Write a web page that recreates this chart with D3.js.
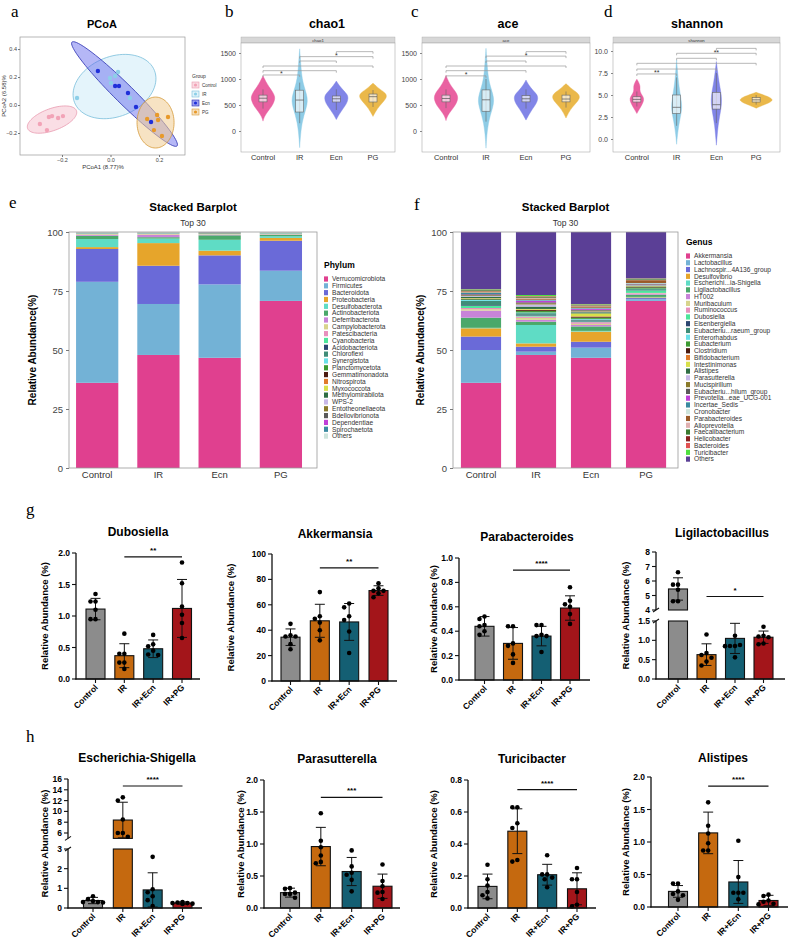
<!DOCTYPE html>
<html>
<head>
<meta charset="utf-8">
<script src="https://cdn.jsdelivr.net/npm/d3@7"></script>
<style>
  body { margin: 0; background: #fff; }
  svg text { font-family: "Liberation Sans", Arial, sans-serif; }
</style>
</head>
<body>
<svg id="fig" width="794" height="948"></svg>
<script>
let groups = ['Control', 'IR', 'Ecn', 'PG']
let barGroups = ['Control', 'IR', 'IR+Ecn', 'IR+PG']

// a: PCoA scores
let pcoaControl = [[-0.291, -0.136], [-0.262, -0.179], [-0.254, -0.086], [-0.241, -0.079], [-0.216, -0.093], [-0.196, -0.079]]
let pcoaIR = [[-0.138, 0.05], [0.031, 0.236], [-0.002, 0.193], [0.002, 0.157], [0.080, 0.05], [0.019, 0.207]]
let pcoaEcn = [[-0.052, 0.243], [0.019, 0.136], [0.035, 0.136], [0.072, 0.086], [0.105, -0.014], [0.167, -0.121]]
let pcoaPG = [[0.151, -0.1], [0.192, -0.071], [0.196, -0.107], [0.237, -0.086], [0.179, -0.179], [0.212, -0.221]]
// ellipse centre and semi-axis vectors, in PCoA units
let pcoaEllipses = [
  { group: 'Control', c: [-0.241, -0.104], a: [0.1006, 0.0636], b: [0.0155, -0.0739] },
  { group: 'IR', c: [0.0165, 0.132], a: [0.1645, 0.115], b: [0.046, -0.199] },
  { group: 'Ecn', c: [0.0577, 0.0786], a: [0.2165, -0.371], b: [0.0276, 0.048] },
  { group: 'PG', c: [0.1856, -0.125], a: [0.0763, 0], b: [0, 0.182] }
]

// b-d: alpha diversity (violin density profiles [value, density], boxes [lo, q1, med, q3, hi])
let chao1Density = {
  Control: [[190, 0], [280, 0.1], [380, 0.35], [480, 0.65], [580, 0.82], [660, 0.86], [750, 0.7], [850, 0.42], [950, 0.2], [1060, 0]],
  IR: [[-320, 0], [-150, 0.04], [0, 0.09], [150, 0.17], [300, 0.3], [450, 0.48], [580, 0.57], [700, 0.5], [850, 0.32], [1000, 0.18], [1200, 0.1], [1400, 0.05], [1580, 0]],
  Ecn: [[220, 0], [320, 0.2], [420, 0.45], [530, 0.75], [620, 0.85], [700, 0.8], [780, 0.5], [870, 0.22], [960, 0]],
  PG: [[280, 0], [380, 0.2], [480, 0.45], [580, 0.8], [660, 1.0], [730, 0.9], [800, 0.5], [870, 0.2], [920, 0]]
}
let chao1Box = { Control: [430, 560, 630, 690, 800], IR: [150, 365, 595, 785, 930], Ecn: [404, 558, 620, 673, 800], PG: [462, 558, 660, 711, 788] }
let chao1Brackets = [1077, 1160, 1250, 1346, 1430, 1526]
let chao1Stars = ['*', '', '', '', '*', '']

let aceDensity = {
  Control: [[200, 0], [290, 0.1], [390, 0.36], [490, 0.66], [590, 0.83], [670, 0.85], [760, 0.68], [850, 0.4], [950, 0.18], [1070, 0]],
  IR: [[-330, 0], [-150, 0.04], [0, 0.09], [150, 0.17], [300, 0.3], [450, 0.48], [580, 0.57], [700, 0.5], [850, 0.32], [1000, 0.18], [1200, 0.1], [1400, 0.05], [1590, 0]],
  Ecn: [[210, 0], [320, 0.22], [420, 0.45], [530, 0.75], [620, 0.86], [700, 0.8], [780, 0.5], [880, 0.2], [980, 0]],
  PG: [[250, 0], [360, 0.2], [460, 0.45], [560, 0.8], [640, 1.0], [720, 0.9], [790, 0.5], [860, 0.2], [910, 0]]
}
let aceBox = { Control: [440, 560, 625, 690, 800], IR: [180, 380, 600, 790, 1000], Ecn: [430, 560, 620, 680, 800], PG: [450, 560, 615, 690, 760] }
let aceBrackets = [1060, 1160, 1250, 1346, 1440, 1526]
let aceStars = ['*', '', '', '', '*', '']

let shannonDensity = {
  Control: [[2.9, 0], [3.4, 0.15], [3.9, 0.3], [4.4, 0.42], [4.8, 0.38], [5.2, 0.22], [5.6, 0.17], [6.0, 0.2], [6.4, 0.12], [6.8, 0]],
  IR: [[-0.6, 0], [0.5, 0.05], [1.5, 0.12], [2.5, 0.22], [3.3, 0.3], [4.0, 0.3], [5.0, 0.22], [6.0, 0.14], [7.0, 0.08], [8.0, 0.04], [9.0, 0]],
  Ecn: [[-0.7, 0], [0.5, 0.05], [1.5, 0.1], [2.5, 0.18], [3.5, 0.28], [4.5, 0.32], [5.5, 0.25], [6.5, 0.15], [7.5, 0.08], [8.8, 0]],
  PG: [[3.5, 0], [3.8, 0.35], [4.1, 0.75], [4.4, 1.0], [4.7, 0.85], [5.0, 0.45], [5.3, 0]]
}
let shannonBox = { Control: [3.7, 4.2, 4.5, 4.8, 5.4], IR: [1.5, 2.9, 3.6, 5.0, 7.0], Ecn: [1.8, 3.4, 3.9, 5.3, 7.5], PG: [3.9, 4.2, 4.45, 4.7, 5.0] }
let shannonBrackets = [7.39, 7.95, 8.6, 9.17, 9.74, 10.3]
let shannonStars = ['**', '', '', '', '**', '']

let pairs = [['Control', 'IR'], ['Control', 'Ecn'], ['Control', 'PG'], ['IR', 'Ecn'], ['IR', 'PG'], ['Ecn', 'PG']]

// e: phylum composition (%)
let phylumNames = ['Verrucomicrobiota', 'Firmicutes', 'Bacteroidota', 'Proteobacteria', 'Desulfobacterota', 'Actinobacteriota',
  'Deferribacterota', 'Campylobacterota', 'Patescibacteria', 'Cyanobacteria', 'Acidobacteriota', 'Chloroflexi', 'Synergistota',
  'Planctomycetota', 'Gemmatimonadota', 'Nitrospirota', 'Myxococcota', 'Methylomirabilota', 'WPS-2', 'Entotheonellaeota',
  'Bdellovibrionota', 'Dependentiae', 'Spirochaetota', 'Others']
let phylumColors = ['#e0408f', '#73b2d6', '#6a6ad8', '#e6a52b', '#5fdcc5', '#4aa86a', '#c883d8', '#d8d48c', '#e88fbd', '#4de69b',
  '#2c4670', '#3f8c78', '#6ae0e8', '#3c9a32', '#4a1a10', '#e07a2a', '#d8e04a', '#2f6e44', '#c8b8e8', '#8a7a2a',
  '#5a5a5a', '#c040d8', '#3a8aa0', '#cde4dc']
let phylumControl = [36.1, 42.8, 13.9, 0.8, 3.4, 1.4, 0.4, 0.3, 0.2, 0.1, 0.05, 0.05, 0.05, 0.05, 0.02, 0.02, 0.02, 0.02, 0.02, 0.02, 0.05, 0.02, 0.05, 0.16]
let phylumIR = [47.9, 21.6, 16.2, 9.6, 1.9, 0.6, 1.0, 0.3, 0.2, 0.1, 0.05, 0.05, 0.05, 0.05, 0.02, 0.02, 0.02, 0.02, 0.02, 0.02, 0.05, 0.02, 0.05, 0.16]
let phylumEcn = [46.7, 31.1, 12.3, 2.0, 4.6, 1.9, 0.2, 0.2, 0.1, 0.1, 0.05, 0.05, 0.05, 0.05, 0.02, 0.02, 0.02, 0.02, 0.02, 0.02, 0.3, 0.02, 0.05, 0.11]
let phylumPG = [70.8, 12.8, 12.7, 1.2, 0.7, 0.6, 0.2, 0.2, 0.1, 0.1, 0.05, 0.05, 0.05, 0.05, 0.02, 0.02, 0.02, 0.02, 0.02, 0.02, 0.05, 0.02, 0.05, 0.16]

// f: genus composition (%)
let genusNames = ['Akkermansia', 'Lactobacillus', 'Lachnospir...4A136_group', 'Desulfovibrio', 'Escherichi...ia-Shigella',
  'Ligilactobacillus', 'HT002', 'Muribaculum', 'Ruminococcus', 'Dubosiella', 'Eisenbergiella', 'Eubacteriu...raeum_group',
  'Enterorhabdus', 'Eubacterium', 'Clostridium', 'Bifidobacterium', 'Intestinimonas', 'Alistipes', 'Parasutterella',
  'Mucispirillum', 'Eubacteriu...hilum_group', 'Prevotella...eae_UCG-001', 'Incertae_Sedis', 'Cronobacter',
  'Parabacteroides', 'Alloprevotella', 'Faecalibacterium', 'Helicobacter', 'Bacteroides', 'Turicibacter', 'Others']
let genusColors = ['#e0408f', '#73b2d6', '#6a6ad8', '#e6a52b', '#5fdcc5', '#4aa86a', '#c883d8', '#d8d48c', '#e88fbd', '#4de69b',
  '#2c4670', '#3f8c78', '#6ae0e8', '#3c9a32', '#4a1a10', '#e07a2a', '#d8e04a', '#2f6e44', '#c8b8e8', '#8a7a2a',
  '#5a5a5a', '#c040d8', '#3a8aa0', '#cde4dc', '#9a5a28', '#e0b0b0', '#3a7a30', '#8a2020', '#e05050', '#50e040', '#5b3f96']
let genusControl = [36.1, 13.9, 5.7, 3.5, 0.2, 4.3, 3.0, 0.6, 0.5, 0.9, 0.3, 1.8, 0.4, 0.3, 0.2, 0.1, 0.2, 0.6, 0.3, 0.3, 0.4, 0.1, 0.5, 0.2, 0.5, 0.2, 0.3, 0.1, 0.1, 0.2, 24.2]
let genusIR = [47.9, 1.4, 2.1, 1.4, 7.8, 1.4, 0.8, 0.8, 0.6, 0.4, 0.3, 0.7, 0.3, 0.6, 0.4, 0.2, 0.3, 1.0, 0.9, 0.5, 0.4, 0.6, 0.3, 0.2, 0.5, 0.3, 0.3, 0.2, 0.2, 0.5, 26.7]
let genusEcn = [46.7, 4.3, 2.5, 4.3, 0.3, 1.9, 0.6, 0.5, 0.7, 0.3, 0.4, 0.4, 0.3, 0.5, 0.4, 0.2, 1.2, 0.5, 0.3, 0.4, 0.3, 0.4, 0.3, 0.2, 0.6, 0.3, 0.2, 0.2, 0.1, 0.2, 30.5]
let genusPG = [70.8, 0.7, 0.5, 0.3, 0.2, 0.9, 0.3, 0.2, 0.3, 1.0, 0.1, 0.5, 0.2, 0.5, 0.2, 0.1, 0.2, 0.3, 0.2, 0.2, 0.2, 0.1, 0.2, 0.2, 1.2, 0.2, 0.3, 0.1, 0.1, 0.1, 19.6]

// g/h: relative abundance (%), mean, SD and the six mice per group
let dubosiellaMean = [1.11, 0.37, 0.48, 1.12]
let dubosiellaSD = [0.17, 0.19, 0.14, 0.46]
let dubosiellaPoints = [[1.35, 1.23, 1.23, 1.10, 0.95, 0.95], [0.72, 0.40, 0.40, 0.26, 0.26, 0.16], [0.70, 0.55, 0.52, 0.45, 0.39, 0.38], [1.85, 1.52, 1.15, 1.02, 0.89, 0.65]]
let akkermansiaMean = [34.5, 47.4, 46.5, 71.2]
let akkermansiaSD = [6.5, 13, 14.5, 3.8]
let akkermansiaPoints = [[45, 36, 35, 35, 29, 25], [70, 51, 49, 46, 40, 32], [61, 58, 51, 48, 39, 22], [77, 73, 71, 71, 69, 66]]
let parabacteroidesMean = [0.44, 0.30, 0.36, 0.59]
let parabacteroidesSD = [0.08, 0.13, 0.08, 0.10]
let parabacteroidesPoints = [[0.52, 0.50, 0.45, 0.44, 0.40, 0.37], [0.44, 0.44, 0.30, 0.28, 0.21, 0.14], [0.45, 0.45, 0.37, 0.36, 0.36, 0.23], [0.76, 0.65, 0.62, 0.60, 0.54, 0.46]]
let ligilactobacillusMean = [5.45, 0.63, 1.05, 1.08]
let ligilactobacillusSD = [0.77, 0.28, 0.39, 0.16]
let ligilactobacillusPoints = [[6.6, 5.75, 5.75, 5.4, 4.6, 4.6], [1.15, 0.67, 0.62, 0.55, 0.45, 0.35], [1.52, 1.52, 1.12, 0.88, 0.85, 0.56], [1.35, 1.12, 1.10, 1.08, 0.92, 0.90]]
let escherichiaMean = [0.38, 8.4, 0.92, 0.25]
let escherichiaSD = [0.16, 3.3, 0.87, 0.06]
let escherichiaPoints = [[0.6, 0.45, 0.35, 0.3, 0.3, 0.28], [12.6, 12.0, 8.5, 6.0, 6.0, 5.3], [2.6, 0.95, 0.8, 0.6, 0.4, 0.1], [0.3, 0.28, 0.25, 0.25, 0.22, 0.2]]
let parasutterellaMean = [0.24, 0.96, 0.57, 0.34]
let parasutterellaSD = [0.07, 0.30, 0.22, 0.19]
let parasutterellaPoints = [[0.31, 0.30, 0.24, 0.22, 0.22, 0.16], [1.48, 1.05, 0.95, 0.82, 0.72, 0.70], [0.90, 0.65, 0.55, 0.52, 0.44, 0.26], [0.68, 0.42, 0.34, 0.25, 0.24, 0.14]]
let turicibacterMean = [0.135, 0.48, 0.208, 0.12]
let turicibacterSD = [0.077, 0.14, 0.065, 0.10]
let turicibacterPoints = [[0.27, 0.18, 0.14, 0.10, 0.08, 0.06], [0.63, 0.63, 0.53, 0.50, 0.30, 0.29], [0.33, 0.21, 0.21, 0.19, 0.18, 0.13], [0.25, 0.18, 0.18, 0.10, 0.02, 0.01]]
let alistipesMean = [0.24, 1.14, 0.385, 0.10]
let alistipesSD = [0.09, 0.32, 0.33, 0.08]
let alistipesPoints = [[0.36, 0.36, 0.24, 0.20, 0.18, 0.11], [1.61, 1.25, 1.13, 0.98, 0.87, 0.87], [1.02, 0.46, 0.22, 0.22, 0.22, 0.12], [0.19, 0.17, 0.10, 0.08, 0.05, 0.04]]

let svg = d3.select('#fig')
let serif = '"Liberation Serif", "Times New Roman", serif'

let ptColor = { Control: '#f2a3b7', IR: '#8dcfe8', Ecn: '#1f2fd9', PG: '#e8992a' }
let ellFill = { Control: '#f6c3d0', IR: '#cdebf7', Ecn: '#5b60ea', PG: '#f0cc92' }
let ellStroke = { Control: '#e99bb0', IR: '#79bedb', Ecn: '#2a2fb0', PG: '#d69a3a' }
let violinColor = { Control: '#e8589c', IR: '#88c9e5', Ecn: '#7a7ee6', PG: '#e9b440' }
let barColor = ['#8c8c8c', '#c5690f', '#145f73', '#a3151a']

function letter (txt, x, y) {
  svg.append('text').attr('x', x).attr('y', y)
    .style('font-family', serif).attr('font-size', 17).text(txt)
}

function drawPcoa () {
  let g = svg.append('g')
  let x = d3.scaleLinear().domain([-0.373, 0.307]).range([20, 185])
  let y = d3.scaleLinear().domain([-0.357, 0.486]).range([155, 37])
  g.append('text').attr('x', 102).attr('y', 28).attr('text-anchor', 'middle')
    .attr('font-size', 11).attr('font-weight', 'bold').text('PCoA')
  g.append('rect').attr('x', 20).attr('y', 37).attr('width', 165).attr('height', 118)
    .attr('fill', '#fff').attr('stroke', '#999').attr('stroke-width', 0.7)

  let line = d3.line().x(d => x(d[0])).y(d => y(d[1])).curve(d3.curveLinearClosed)
  let angles = d3.range(0, 2 * Math.PI, Math.PI / 40)
  pcoaEllipses.forEach((e) => {
    let pts = angles.map(t => [
      e.c[0] + Math.cos(t) * e.a[0] + Math.sin(t) * e.b[0],
      e.c[1] + Math.cos(t) * e.a[1] + Math.sin(t) * e.b[1]
    ])
    g.append('path').attr('d', line(pts))
      .attr('fill', ellFill[e.group]).attr('fill-opacity', e.group === 'Ecn' ? 0.45 : 0.55)
      .attr('stroke', ellStroke[e.group]).attr('stroke-width', 0.8)
  })

  let sets = [['Control', pcoaControl], ['IR', pcoaIR], ['Ecn', pcoaEcn], ['PG', pcoaPG]]
  sets.forEach(([grp, pts]) => {
    g.selectAll(null).data(pts).enter().append('circle')
      .attr('cx', d => x(d[0])).attr('cy', d => y(d[1])).attr('r', 2.2)
      .attr('fill', ptColor[grp])
  })

  let fmt = d3.format('.1f')
  let xa = g.append('g').attr('transform', 'translate(0,155)')
    .call(d3.axisBottom(x).tickValues([-0.2, 0, 0.2]).tickSize(2).tickPadding(1).tickFormat(fmt))
  let ya = g.append('g').attr('transform', 'translate(20,0)')
    .call(d3.axisLeft(y).tickValues([-0.2, 0, 0.2, 0.4]).tickSize(2).tickPadding(1).tickFormat(fmt))
  ;[xa, ya].forEach((a) => {
    a.select('.domain').remove()
    a.selectAll('line').attr('stroke', '#777')
    a.selectAll('text').attr('font-size', 5.5).attr('fill', '#444')
  })
  g.append('text').attr('x', 103).attr('y', 168.5).attr('text-anchor', 'middle')
    .attr('font-size', 6).attr('fill', '#333').text('PCoA1 (8.77)%')
  g.append('text').attr('transform', 'translate(6,96) rotate(-90)').attr('text-anchor', 'middle')
    .attr('font-size', 6).attr('fill', '#333').text('PCoA2 (6.58)%')

  // legend
  let lg = g.append('g').attr('transform', 'translate(192,78)')
  lg.append('text').attr('x', 0).attr('y', 0).attr('font-size', 5).attr('fill', '#333').text('Group')
  groups.forEach((grp, i) => {
    let yy = 4 + i * 9
    lg.append('rect').attr('x', 0).attr('y', yy).attr('width', 7).attr('height', 6)
      .attr('fill', ellFill[grp]).attr('fill-opacity', 0.6).attr('stroke', ellStroke[grp]).attr('stroke-width', 0.6)
    lg.append('circle').attr('cx', 3.5).attr('cy', yy + 3).attr('r', 1.6).attr('fill', ptColor[grp])
    lg.append('text').attr('x', 10).attr('y', yy + 4.5).attr('font-size', 4.5).attr('fill', '#333').text(grp)
  })
}

function drawViolins (o) {
  let g = svg.append('g')
  let x = d3.scalePoint().domain(groups).range([o.left, o.right]).padding(0.6)
  let y = d3.scaleLinear().domain(o.domain).range(o.range)
  let w = d3.scaleLinear().domain([0, 1]).range([0, o.maxHalf])

  g.append('text').attr('x', o.titleX).attr('y', 28).attr('text-anchor', 'middle')
    .attr('font-size', 12.5).attr('font-weight', 'bold').text(o.name)
  g.append('rect').attr('x', o.left).attr('y', 37).attr('width', o.right - o.left).attr('height', 6)
    .attr('fill', '#d7d7d7').attr('stroke', '#aaa').attr('stroke-width', 0.4)
  g.append('text').attr('x', (o.left + o.right) / 2).attr('y', 41.6).attr('text-anchor', 'middle')
    .attr('font-size', 4.3).attr('fill', '#333').text(o.name)
  g.append('rect').attr('x', o.left).attr('y', 43).attr('width', o.right - o.left).attr('height', 109)
    .attr('fill', '#fff').attr('stroke', '#aaa').attr('stroke-width', 0.6)

  groups.forEach((grp) => {
    let cx = x(grp)
    let area = d3.area().y(d => y(d[0]))
      .x0(d => cx - w(d[1])).x1(d => cx + w(d[1])).curve(d3.curveBasis)
    g.append('path').attr('d', area(o.density[grp]))
      .attr('fill', violinColor[grp]).attr('fill-opacity', 0.95)
      .attr('stroke', violinColor[grp]).attr('stroke-width', 0.4)
    let b = o.box[grp]
    g.append('line').attr('x1', cx).attr('x2', cx).attr('y1', y(b[0])).attr('y2', y(b[4]))
      .attr('stroke', '#666').attr('stroke-width', 0.6)
    g.append('rect').attr('x', cx - 4).attr('width', 8).attr('y', y(b[3])).attr('height', y(b[1]) - y(b[3]))
      .attr('fill', '#fff').attr('fill-opacity', 0.65).attr('stroke', '#666').attr('stroke-width', 0.6)
    g.append('line').attr('x1', cx - 4).attr('x2', cx + 4).attr('y1', y(b[2])).attr('y2', y(b[2]))
      .attr('stroke', '#555').attr('stroke-width', 0.7)
  })

  pairs.forEach((p, i) => {
    let yy = y(o.brackets[i])
    let x1 = x(p[0])
    let x2 = x(p[1])
    g.append('path').attr('d', `M${x1},${yy + 2}V${yy}H${x2}V${yy + 2}`)
      .attr('fill', 'none').attr('stroke', '#9a9a9a').attr('stroke-width', 0.7)
    if (o.stars[i]) {
      g.append('text').attr('x', (x1 + x2) / 2).attr('y', yy + 1.5).attr('text-anchor', 'middle')
        .attr('font-size', 7).attr('fill', '#333').text(o.stars[i])
    }
  })

  let ya = g.append('g').attr('transform', `translate(${o.left},0)`)
    .call(d3.axisLeft(y).tickValues(o.ticks).tickSize(2).tickFormat(o.fmt))
  ya.select('.domain').remove()
  ya.selectAll('line').attr('stroke', '#888')
  ya.selectAll('text').attr('font-size', 7).attr('fill', '#444')
  groups.forEach((grp) => {
    g.append('text').attr('x', x(grp)).attr('y', 159.5).attr('text-anchor', 'middle')
      .attr('font-size', 7.5).attr('fill', '#333').text(grp)
  })
}

function drawStacked (o) {
  let g = svg.append('g')
  let rows = groups.map((grp, i) => {
    let r = { group: grp }
    o.keys.forEach((k, j) => { r[k] = o.values[i][j] })
    return r
  })
  let series = d3.stack().keys(o.keys)(rows)
  let x = d3.scaleBand().domain(groups).range([o.left, o.right])
    .paddingInner(o.pi).paddingOuter(0.18).align(o.align)
  let y = d3.scaleLinear().domain([0, 100]).range([468, 232])
  let color = d3.scaleOrdinal().domain(o.keys).range(o.colors)
  let cx = (o.left + o.right) / 2

  g.append('text').attr('x', cx).attr('y', 211).attr('text-anchor', 'middle')
    .attr('font-size', 11.5).attr('font-weight', 'bold').text('Stacked Barplot')
  g.append('text').attr('x', cx).attr('y', 226).attr('text-anchor', 'middle')
    .attr('font-size', 8.5).attr('fill', '#333').text('Top 30')
  g.append('rect').attr('x', o.left).attr('y', 232).attr('width', o.right - o.left).attr('height', 236)
    .attr('fill', '#fff')

  series.forEach((s) => {
    g.selectAll(null).data(s).enter().append('rect')
      .attr('x', d => x(d.data.group)).attr('width', x.bandwidth())
      .attr('y', d => y(d[1])).attr('height', d => Math.max(0, y(d[0]) - y(d[1])))
      .attr('fill', color(s.key))
  })
  g.append('rect').attr('x', o.left).attr('y', 232).attr('width', o.right - o.left).attr('height', 236)
    .attr('fill', 'none').attr('stroke', '#999').attr('stroke-width', 0.8)

  let ya = g.append('g').attr('transform', `translate(${o.left},0)`)
    .call(d3.axisLeft(y).tickValues([0, 25, 50, 75, 100]).tickSize(3))
  ya.select('.domain').remove()
  ya.selectAll('line').attr('stroke', '#777')
  ya.selectAll('text').attr('font-size', 9.5).attr('fill', '#444')
  groups.forEach((grp) => {
    g.append('text').attr('x', x(grp) + x.bandwidth() / 2).attr('y', 478).attr('text-anchor', 'middle')
      .attr('font-size', 9.5).attr('fill', '#333').text(grp)
  })
  g.append('text').attr('transform', `translate(${o.ylabX},350) rotate(-90)`).attr('text-anchor', 'middle')
    .attr('font-size', 10).attr('font-weight', 'bold').text('Relative Abundance(%)')

  g.append('text').attr('x', o.legX).attr('y', o.legTitleY).attr('font-size', 8.5).attr('font-weight', 'bold')
    .text(o.legTitle)
  o.keys.forEach((k, i) => {
    let yy = o.legY + i * o.legStep
    g.append('rect').attr('x', o.legX).attr('y', yy - 2.6).attr('width', 4).attr('height', 5.2).attr('fill', color(k))
    g.append('text').attr('x', o.legX + 8).attr('y', yy + 2.3).attr('font-size', 6.6).attr('fill', '#333').text(k)
  })
}

// place the six dots of a group side by side where they would overlap
function spread (vals, yOf, r) {
  let placed = []
  let offsets = [0, -5, 5, -2.5, 2.5, -7.5, 7.5, -10, 10]
  return vals.map((v) => {
    let py = yOf(v)
    let dx = offsets.find(o => placed.every(p => Math.hypot(p[0] - o, p[1] - py) >= 2 * r + 0.3))
    if (dx === undefined) dx = 0
    placed.push([dx, py])
    return [dx, py]
  })
}

function drawBars (o) {
  let g = svg.append('g')
  let x = d3.scalePoint().domain(barGroups).range([o.c0, o.c3])
  let segs = o.segments.map(s => ({ lo: s.d[0], hi: s.d[1], r: s.r, sc: d3.scaleLinear().domain(s.d).range(s.r), ticks: s.ticks, fmt: s.fmt }))
  let segOf = v => segs.find(s => v <= s.hi) || segs[segs.length - 1]
  let y = v => segOf(v).sc(v)
  let base = segs[0].r[0]
  let bw = 19

  g.append('text').attr('x', o.tx).attr('y', o.ty).attr('text-anchor', 'middle')
    .attr('font-size', 12).attr('font-weight', 'bold').text(o.title)

  barGroups.forEach((grp, i) => {
    let cx = x(grp)
    let m = o.mean[i]
    segs.forEach((s) => {
      if (m <= s.lo) return
      let top = Math.min(m, s.hi)
      g.append('rect').attr('x', cx - bw / 2).attr('width', bw)
        .attr('y', s.sc(top)).attr('height', s.sc(s.lo) - s.sc(top))
        .attr('fill', barColor[i]).attr('stroke', '#111').attr('stroke-width', 1.1)
    })
    let lo = m - o.sd[i]
    let hi = m + o.sd[i]
    g.append('path').attr('d', `M${cx - 5},${y(hi)}H${cx + 5}M${cx},${y(hi)}V${y(lo)}M${cx - 5},${y(lo)}H${cx + 5}`)
      .attr('fill', 'none').attr('stroke', '#111').attr('stroke-width', 1)
    spread(o.points[i], y, 2.3).forEach((p) => {
      g.append('circle').attr('cx', cx + p[0]).attr('cy', p[1]).attr('r', 2.3).attr('fill', '#000')
    })
  })

  // y axis pieces
  segs.forEach((s, k) => {
    g.append('line').attr('x1', o.axisX).attr('x2', o.axisX).attr('y1', s.r[0] + (k === 0 ? 0.6 : 0)).attr('y2', s.r[1])
      .attr('stroke', '#111').attr('stroke-width', 1.3)
    s.ticks.forEach((t) => {
      g.append('line').attr('x1', o.axisX - 4).attr('x2', o.axisX).attr('y1', s.sc(t)).attr('y2', s.sc(t))
        .attr('stroke', '#111').attr('stroke-width', 1.1)
      g.append('text').attr('x', o.axisX - 6).attr('y', s.sc(t) + 3).attr('text-anchor', 'end')
        .attr('font-size', 8.5).attr('font-weight', 'bold').text(d3.format(s.fmt)(t))
    })
  })
  for (let k = 0; k < segs.length - 1; k++) {
    let a = segs[k].r[1]
    let b = segs[k + 1].r[0]
    ;[a, b].forEach((yy) => {
      g.append('line').attr('x1', o.axisX - 3).attr('x2', o.axisX + 3).attr('y1', yy + 2).attr('y2', yy - 2)
        .attr('stroke', '#111').attr('stroke-width', 1.1)
    })
  }
  let mid = (segs[0].r[0] + segs[segs.length - 1].r[1]) / 2
  g.append('text').attr('transform', `translate(${o.ylabX},${mid}) rotate(-90)`).attr('text-anchor', 'middle')
    .attr('font-size', 9.5).attr('font-weight', 'bold').text('Relative Abundance (%)')

  // x axis
  g.append('line').attr('x1', o.axisX - 0.6).attr('x2', o.xEnd).attr('y1', base).attr('y2', base)
    .attr('stroke', '#111').attr('stroke-width', 1.3)
  barGroups.forEach((grp) => {
    let cx = x(grp)
    g.append('line').attr('x1', cx).attr('x2', cx).attr('y1', base).attr('y2', base + 4)
      .attr('stroke', '#111').attr('stroke-width', 1.1)
    g.append('text').attr('transform', `translate(${cx + 3},${base + 9}) rotate(-45)`)
      .attr('text-anchor', 'end').attr('font-size', 8.5).attr('font-weight', 'bold').text(grp)
  })

  // significance IR vs IR+PG
  let sy = y(o.sigY)
  g.append('line').attr('x1', x('IR')).attr('x2', x('IR+PG')).attr('y1', sy).attr('y2', sy)
    .attr('stroke', '#111').attr('stroke-width', 1.2)
  g.append('text').attr('x', (x('IR') + x('IR+PG')) / 2).attr('y', sy - 4).attr('text-anchor', 'middle')
    .attr('font-size', 8).attr('font-weight', 'bold').text(o.sig)
}

// ---- draw ----
letter('a', 11, 17)
letter('b', 225, 17)
letter('c', 411, 17)
letter('d', 604, 17)
letter('e', 9, 208)
letter('f', 414, 210)
letter('g', 26, 515)
letter('h', 26, 742)

drawPcoa()

drawViolins({ name: 'chao1', titleX: 327, left: 241, right: 395, domain: [0, 1500], range: [131, 53], maxHalf: 14,
  density: chao1Density, box: chao1Box, brackets: chao1Brackets, stars: chao1Stars, ticks: [0, 500, 1000, 1500], fmt: d3.format('d') })
drawViolins({ name: 'ace', titleX: 508, left: 422, right: 590, domain: [0, 1500], range: [131, 53], maxHalf: 14,
  density: aceDensity, box: aceBox, brackets: aceBrackets, stars: aceStars, ticks: [0, 500, 1000, 1500], fmt: d3.format('d') })
drawViolins({ name: 'shannon', titleX: 697, left: 613, right: 780, domain: [0, 10], range: [139, 51], maxHalf: 17,
  density: shannonDensity, box: shannonBox, brackets: shannonBrackets, stars: shannonStars, ticks: [0, 2.5, 5, 7.5, 10], fmt: d3.format('.1f') })

drawStacked({ keys: phylumNames, colors: phylumColors, values: [phylumControl, phylumIR, phylumEcn, phylumPG],
  left: 69, right: 317, pi: 0.31, align: 0.32, ylabX: 36, legTitle: 'Phylum', legX: 324, legTitleY: 268, legY: 279, legStep: 6.83 })
drawStacked({ keys: genusNames, colors: genusColors, values: [genusControl, genusIR, genusEcn, genusPG],
  left: 453, right: 678, pi: 0.27, align: 0.4, ylabX: 424, legTitle: 'Genus', legX: 686, legTitleY: 245, legY: 256, legStep: 6.77 })

drawBars({ title: 'Dubosiella', tx: 138, ty: 536, axisX: 76, c0: 95.5, c3: 182, xEnd: 200, ylabX: 48,
  segments: [{ d: [0, 2], r: [679, 553], ticks: [0, 0.5, 1, 1.5, 2], fmt: '.1f' }],
  mean: dubosiellaMean, sd: dubosiellaSD, points: dubosiellaPoints, sigY: 1.94, sig: '**' })
drawBars({ title: 'Akkermansia', tx: 335, ty: 538, axisX: 272, c0: 290.5, c3: 378.5, xEnd: 397, ylabX: 234,
  segments: [{ d: [0, 100], r: [681, 554], ticks: [0, 20, 40, 60, 80, 100], fmt: 'd' }],
  mean: akkermansiaMean, sd: akkermansiaSD, points: akkermansiaPoints, sigY: 89, sig: '**' })
drawBars({ title: 'Parabacteroides', tx: 527, ty: 541, axisX: 459, c0: 484.5, c3: 570, xEnd: 590, ylabX: 437,
  segments: [{ d: [0, 1], r: [680, 558], ticks: [0, 0.2, 0.4, 0.6, 0.8, 1], fmt: '.1f' }],
  mean: parabacteroidesMean, sd: parabacteroidesSD, points: parabacteroidesPoints, sigY: 0.90, sig: '****' })
drawBars({ title: 'Ligilactobacillus', tx: 722, ty: 537, axisX: 656, c0: 678, c3: 763.5, xEnd: 785, ylabX: 629,
  segments: [{ d: [0, 1.5], r: [679, 621], ticks: [0, 0.5, 1, 1.5], fmt: '.1f' }, { d: [4, 8], r: [610, 552], ticks: [4, 5, 6, 7, 8], fmt: 'd' }],
  mean: ligilactobacillusMean, sd: ligilactobacillusSD, points: ligilactobacillusPoints, sigY: 4.93, sig: '*' })

drawBars({ title: 'Escherichia-Shigella', tx: 137, ty: 762, axisX: 68, c0: 93, c3: 182.5, xEnd: 202, ylabX: 48,
  segments: [{ d: [0, 3], r: [908, 849], ticks: [0, 1, 2, 3], fmt: 'd' }, { d: [5, 16], r: [838.4, 779], ticks: [6, 8, 10, 12, 14, 16], fmt: 'd' }],
  mean: escherichiaMean, sd: escherichiaSD, points: escherichiaPoints, sigY: 14.7, sig: '****' })
drawBars({ title: 'Parasutterella', tx: 337, ty: 763, axisX: 264, c0: 290, c3: 382.5, xEnd: 400, ylabX: 244,
  segments: [{ d: [0, 2], r: [908, 780], ticks: [0, 0.5, 1, 1.5, 2], fmt: '.1f' }],
  mean: parasutterellaMean, sd: parasutterellaSD, points: parasutterellaPoints, sigY: 1.73, sig: '***' })
drawBars({ title: 'Turicibacter', tx: 532, ty: 763, axisX: 468, c0: 487.5, c3: 577, xEnd: 596, ylabX: 437,
  segments: [{ d: [0, 0.8], r: [908, 780], ticks: [0, 0.2, 0.4, 0.6, 0.8], fmt: '.1f' }],
  mean: turicibacterMean, sd: turicibacterSD, points: turicibacterPoints, sigY: 0.74, sig: '****' })
drawBars({ title: 'Alistipes', tx: 723, ty: 762, axisX: 651, c0: 678, c3: 768.5, xEnd: 788, ylabX: 629,
  segments: [{ d: [0, 2], r: [907, 777], ticks: [0, 0.5, 1, 1.5, 2], fmt: '.1f' }],
  mean: alistipesMean, sd: alistipesSD, points: alistipesPoints, sigY: 1.86, sig: '****' })
</script>
</body>
</html>
